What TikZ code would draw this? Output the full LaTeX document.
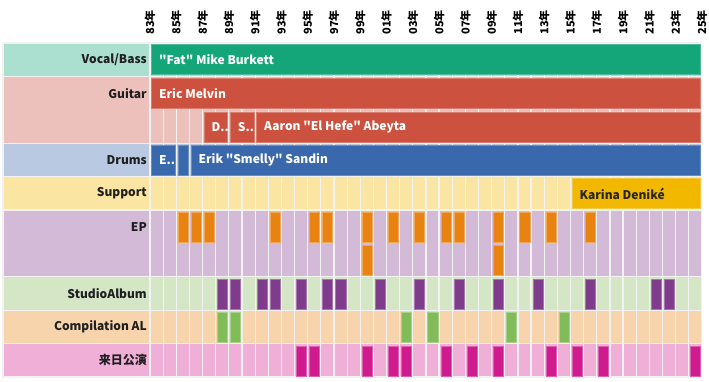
\documentclass[tikz,border=0pt]{standalone}
\usepackage{fontspec}
\setmainfont{Noto Sans CJK JP}[Ligatures=TeXOff]
\definecolor{vocalbg}{RGB}{171,223,207}
\definecolor{vocalbar}{RGB}{20,165,121}
\definecolor{guitarbg}{RGB}{236,193,188}
\definecolor{guitarbar}{RGB}{204,82,63}
\definecolor{drumsbg}{RGB}{185,201,225}
\definecolor{drumsbar}{RGB}{58,104,172}
\definecolor{supportbg}{RGB}{251,229,162}
\definecolor{supportbar}{RGB}{242,184,0}
\definecolor{epbg}{RGB}{211,187,215}
\definecolor{epbar}{RGB}{232,131,18}
\definecolor{studiobg}{RGB}{212,230,198}
\definecolor{studiobar}{RGB}{128,60,140}
\definecolor{compbg}{RGB}{248,212,172}
\definecolor{compbar}{RGB}{130,188,88}
\definecolor{livebg}{RGB}{239,175,215}
\definecolor{livebar}{RGB}{207,27,142}
\definecolor{gridline}{RGB}{242,242,242}
\newcommand{\gx}[1]{(150+13.14*(#1))}
\newcommand{\ry}[1]{(43+33.4*(#1))}
\begin{document}
\begin{tikzpicture}[x=1pt,y=-1pt,
  rowlab/.style={anchor=east, font=\bfseries\fontsize{12}{14}\selectfont, text=black!88, inner sep=0pt},
  yearlab/.style={rotate=90, anchor=center, font=\bfseries\fontsize{11}{12}\selectfont, text=black, inner sep=0pt},
  lbar/.style={fill=#1, draw=#1!75!white, line width=0.5pt, inner sep=0pt, anchor=north west, minimum height=30pt},
  evbar/.style={fill=#1, draw=#1!70!white, line width=0.5pt, inner sep=0pt, anchor=north west, minimum width=10.1pt, minimum height=29.9pt},
  bartext/.style={anchor=west, font=\bfseries\fontsize{12}{14}\selectfont, text=white, inner sep=0pt},
  darktext/.style={anchor=west, font=\bfseries\fontsize{12}{14}\selectfont, text=black!85, inner sep=0pt},
  gridrule/.style={draw=gridline, line width=1.2pt}
]
\useasboundingbox (0,0) rectangle (709,382);
% row backgrounds
\fill[vocalbg]   (3,{\ry{0}}) rectangle ({\gx{42}},{\ry{1}});
\fill[guitarbg]  (3,{\ry{1}}) rectangle ({\gx{42}},{\ry{3}});
\fill[drumsbg]   (3,{\ry{3}}) rectangle ({\gx{42}},{\ry{4}});
\fill[supportbg] (3,{\ry{4}}) rectangle ({\gx{42}},{\ry{5}});
\fill[epbg]      (3,{\ry{5}}) rectangle ({\gx{42}},{\ry{7}});
\fill[studiobg]  (3,{\ry{7}}) rectangle ({\gx{42}},{\ry{8}});
\fill[compbg]    (3,{\ry{8}}) rectangle ({\gx{42}},{\ry{9}});
\fill[livebg]    (3,{\ry{9}}) rectangle ({\gx{42}},{\ry{10}});
% grid lines
\foreach \k in {0,...,42} \draw[gridrule] ({\gx{\k}},{\ry{0}}) -- ({\gx{\k}},{\ry{10}});
\foreach \r in {0,1,3,4,5,7,8,9,10} \draw[gridrule] (2.4,{\ry{\r}}) -- ({\gx{42}+0.6},{\ry{\r}});
\draw[gridrule] (3,{\ry{0}}) -- (3,{\ry{10}});
% year labels
\foreach \lab [count=\i from 0] in {83,85,87,89,91,93,95,97,99,01,03,05,07,09,11,13,15,17,19,21,23,25}
  \node[yearlab] (yr\i) at ({\gx{2*\i}},22.5) {\lab 年};
% row labels
\node[rowlab] (lvocal)   at (147,{\ry{0}+16.7}) {Vocal/Bass};
\node[rowlab] (lguitar)  at (147,{\ry{1}+16.7}) {Guitar};
\node[rowlab] (ldrums)   at (147,{\ry{3}+16.7}) {Drums};
\node[rowlab] (lsupport) at (147,{\ry{4}+16.7}) {Support};
\node[rowlab] (lep)      at (147,{\ry{5}+16.7}) {EP};
\node[rowlab] (lstudio)  at (147,{\ry{7}+16.7}) {StudioAlbum};
\node[rowlab] (lcomp)    at (147,{\ry{8}+16.7}) {Compilation AL};
\node[rowlab] (llive)    at (147,{\ry{9}+16.7}) {来日公演};
% member bars
\node[lbar=vocalbar, minimum width={13.14*42-2.7}] (bfat) at ({\gx{0}+1.3},{\ry{0}+1.5}) {};
\node[bartext] (tfat) at ([xshift=7.6pt]bfat.west) {"Fat" Mike Burkett};
\node[lbar=guitarbar, minimum width={13.14*42-2.7}] (beric) at ({\gx{0}+1.3},{\ry{1}+1.5}) {};
\node[bartext] (teric) at ([xshift=7.6pt]beric.west) {Eric Melvin};
\node[lbar=guitarbar, minimum width={13.14*2-2.7}] (bdave) at ({\gx{4}+1.3},{\ry{2}+1.8}) {};
\node[bartext] (tdave) at ([xshift=7.6pt]bdave.west) {D..};
\node[lbar=guitarbar, minimum width={13.14*2-2.7}] (bsteve) at ({\gx{6}+1.3},{\ry{2}+1.8}) {};
\node[bartext] (tsteve) at ([xshift=7.6pt]bsteve.west) {S..};
\node[lbar=guitarbar, minimum width={13.14*34-2.7}] (baaron) at ({\gx{8}+1.3},{\ry{2}+1.8}) {};
\node[bartext] (taaron) at ([xshift=7.6pt]baaron.west) {Aaron "El Hefe" Abeyta};
\node[lbar=drumsbar, minimum width={13.14*2-2.7}] (berik1) at ({\gx{0}+1.3},{\ry{3}+1.5}) {};
\node[bartext] (terik1) at ([xshift=7.6pt]berik1.west) {E..};
\node[lbar=drumsbar, minimum width={13.14*1-2.7}] (bdrum2) at ({\gx{2}+1.3},{\ry{3}+1.5}) {};
\node[lbar=drumsbar, minimum width={13.14*39-2.7}] (berik2) at ({\gx{3}+1.3},{\ry{3}+1.5}) {};
\node[bartext] (terik2) at ([xshift=7.6pt]berik2.west) {Erik "Smelly" Sandin};
\node[lbar=supportbar, minimum width={13.14*10-2.7}] (bkarina) at ({\gx{32}+1.3},{\ry{4}+1.8}) {};
\node[darktext] (tkarina) at ([xshift=7.6pt]bkarina.west) {Karina Deniké};
% event bars
\foreach \c in {2,3,4,9,12,13,16,18,20,22,23,26,28,30,33}
  \node[evbar=epbar] (epa\c) at ({\gx{\c}+1.5},{\ry{5}+2}) {};
\foreach \c in {16,26}
  \node[evbar=epbar] (epb\c) at ({\gx{\c}+1.5},{\ry{6}+2}) {};
\foreach \c in {5,6,8,9,11,13,14,17,20,23,26,29,33,38,39}
  \node[evbar=studiobar] (sa\c) at ({\gx{\c}+1.5},{\ry{7}+2}) {};
\foreach \c in {5,6,19,21,27,31}
  \node[evbar=compbar] (ca\c) at ({\gx{\c}+1.5},{\ry{8}+2}) {};
\foreach \c in {11,12,16,18,19,22,24,26,30,32,34,41}
  \node[evbar=livebar] (lv\c) at ({\gx{\c}+1.5},{\ry{9}+2}) {};
\end{tikzpicture}
\end{document}
